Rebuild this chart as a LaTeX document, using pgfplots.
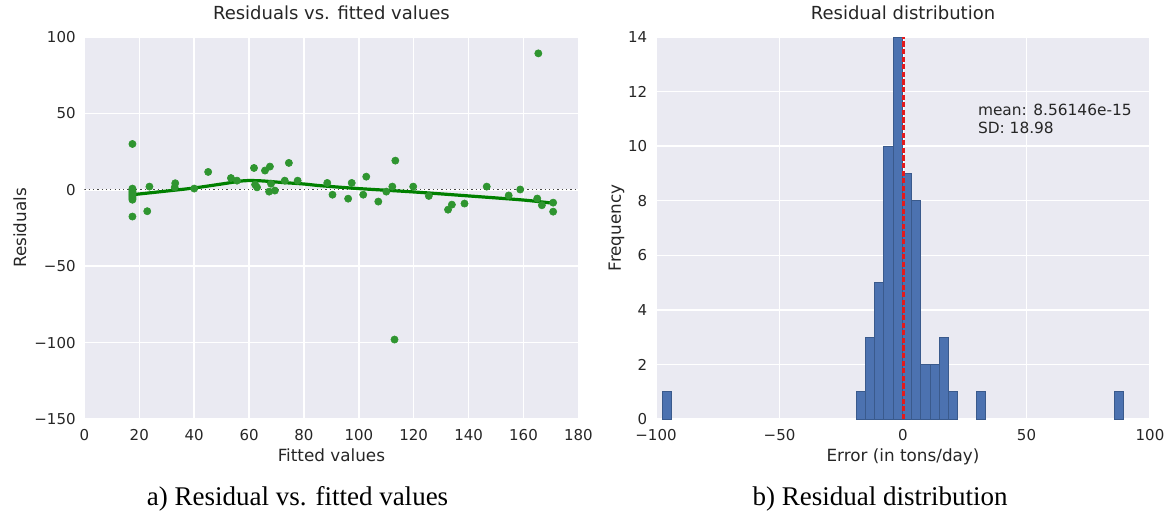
\documentclass[border=0pt]{standalone}
\usepackage{pgfplots}
\pgfplotsset{compat=1.18}
\usepackage{fontspec}
\setmainfont{DejaVu Sans}
\newfontfamily\capfont{Liberation Serif}

\definecolor{bgcol}{HTML}{EAEAF2}
\definecolor{txtcol}{HTML}{262626}
\definecolor{ptgreen}{RGB}{47,149,48}
\definecolor{lngreen}{RGB}{0,128,0}
\definecolor{barblue}{HTML}{4C72B0}
\definecolor{baredge}{HTML}{3A5A8C}
\definecolor{meanred}{RGB}{228,26,28}

\pgfplotsset{
  sbstyle/.style={
    scale only axis,
    width=247pt, height=191pt,
    axis background/.style={fill=bgcol},
    axis line style={draw=none},
    major tick style={draw=none},
    grid=major,
    major grid style={white, line width=0.75pt},
    tick label style={text=txtcol, font=\fontsize{7.5}{9}\selectfont},
    xticklabel style={anchor=base, yshift=-10.85pt},
    yticklabel style={anchor=east, inner sep=0pt, xshift=-4.2pt},
    label style={text=txtcol, font=\fontsize{8.4}{10}\selectfont},
    xlabel style={at={(axis description cs:0.5,0)}, anchor=base, yshift=-21.25pt},
    title style={text=txtcol, font=\fontsize{9}{11}\selectfont,
      at={(axis description cs:0.5,1)}, anchor=base, yshift=2.65pt},
  }
}

\begin{document}
\begin{tikzpicture}
\path[use as bounding box] (-42.2pt,-46pt) rectangle (540.8pt,209.5pt);

% a) residuals vs fitted values
\begin{axis}[
    sbstyle,
    at={(0,0)}, anchor=south west,
    xmin=0, xmax=180, ymin=-150, ymax=100,
    xtick={0,20,...,180},
    xticklabels={0,20,40,60,80,100,120,140,160,180},
    ytick={-150,-100,-50,0,50,100},
    yticklabels={−150,−100,−50,0,50,100},
    ylabel={Residuals},
    ylabel style={at={(axis description cs:-0.1182,0.5)}, anchor=base},
    xlabel={Fitted values},
    title={Residuals vs. fitted values},
]
\addplot[txtcol!85, line width=0.65pt, dash pattern=on 0.65pt off 1.5pt] coordinates {(0,0) (180,0)};
\addplot[only marks, color=ptgreen, mark=*, mark size=1.8pt, mark options={solid, fill=ptgreen, line width=0.3pt}]
  coordinates {
    (17.5,30) (17.5,0.8) (17.5,0) (17.5,-0.8) (17.5,-1.6) (17.5,-2.4)
    (17.5,-3.2) (17.5,-4) (17.5,-4.8) (17.5,-5.6) (17.5,-6.5) (17.5,-17.5)
    (23.7,2.1) (22.9,-14) (33.1,4.3) (32.9,1.6) (40,0.8) (45.1,11.7)
    (53.4,7.7) (55.6,6) (61.8,14.3) (65.8,12.6) (67.6,15.2) (74.5,17.6)
    (62.2,3.4) (62.9,1.6) (68,4) (67.3,-1.2) (69.4,-0.5) (73,6) (77.7,6)
    (88.5,4.5) (90.4,-3.2) (97.4,4.5) (96.1,-5.8) (102.7,8.6) (101.6,-3.2)
    (107.1,-7.7) (110,-1.2) (112.2,2.1) (113.3,19.1) (113,-98)
    (119.8,2.1) (125.5,-4) (132.5,-13) (133.9,-9.7) (138.5,-9)
    (146.6,2.1) (154.6,-3.7) (158.8,0.2) (165.4,89.3) (165,-5.7)
    (166.7,-10.1) (170.8,-8.4) (170.8,-14.3)
  };
\addplot[lngreen, line width=1.6pt, smooth] coordinates {
    (17.5,-3.2) (30,-0.8) (40,1.2) (50,3.8) (58,5.9) (64,5.9) (72,4.8)
    (80,3.8) (86,2.7) (100,0.8) (120,-1.4) (140,-4) (160,-6.7) (170.8,-8.8)
  };
\end{axis}

% b) residual distribution
\begin{axis}[
    sbstyle,
    at={(285.8pt,0)}, anchor=south west,
    xmin=-100, xmax=100, ymin=0, ymax=14,
    xtick={-100,-50,0,50,100},
    xticklabels={−100,−50,0,50,100},
    ytick={0,2,...,14},
    yticklabels={0,2,4,6,8,10,12,14},
    ylabel={Frequency},
    ylabel style={at={(axis description cs:-0.0709,0.5)}, anchor=base},
    xlabel={Error (in tons/day)},
    title={Residual distribution},
]
\addplot[ybar, bar width=3.732, bar shift=0pt, fill=barblue, draw=baredge, line width=0.45pt]
  coordinates {
    (-95.43,1) (-17.06,1) (-13.33,3) (-9.60,5) (-5.87,10) (-2.14,14)
    (1.59,9) (5.33,8) (9.06,2) (12.79,2) (16.52,3) (20.25,1)
    (31.45,1) (87.43,1)
  };
\addplot[meanred, line width=1.5pt, dash pattern=on 2.6pt off 1.2pt] coordinates {(0,0) (0,14)};
\node[anchor=base west, inner sep=0pt, text=txtcol, font=\fontsize{7.7}{9}\selectfont]
  at (axis cs:30.2,11.12) {mean: 8.56146e-15};
\node[anchor=base west, inner sep=0pt, text=txtcol, font=\fontsize{7.7}{9}\selectfont]
  at (axis cs:30.2,10.48) {SD: 18.98};
\end{axis}

\node[anchor=base, inner sep=0pt, font=\capfont\fontsize{13.5}{16}\selectfont]
  at (106.55pt,-43pt) {a) Residual vs. fitted values};
\node[anchor=base, inner sep=0pt, font=\capfont\fontsize{13.5}{16}\selectfont]
  at (397.8pt,-43pt) {b) Residual distribution};
\end{tikzpicture}
\end{document}
